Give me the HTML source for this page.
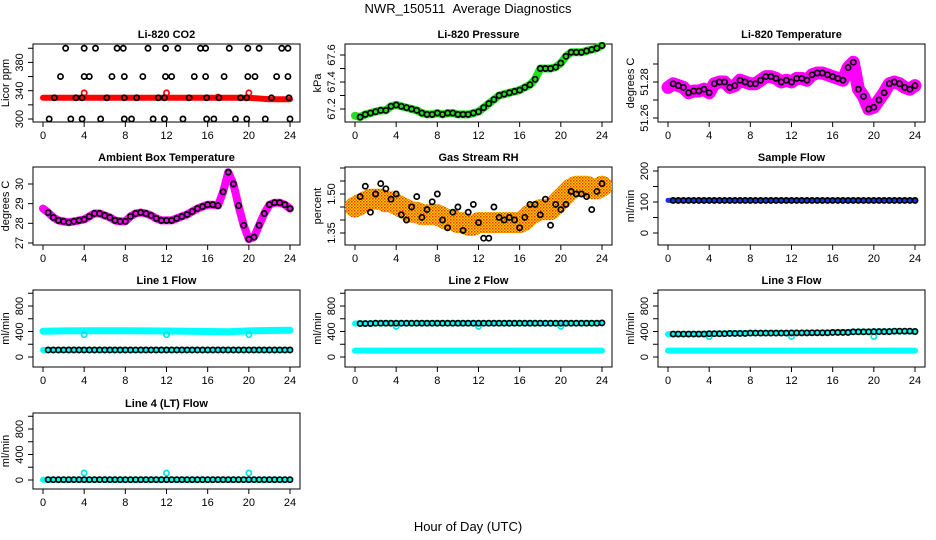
<!DOCTYPE html>
<html><head><meta charset="utf-8"><style>
html,body{margin:0;padding:0;background:#fff;}
svg{display:block;font-family:"Liberation Sans",sans-serif;}
</style></head><body>
<svg id="chart" width="936" height="540" viewBox="0 0 936 540">
<defs>
<pattern id="rhpat" width="3" height="3" patternUnits="userSpaceOnUse">
<rect width="3" height="3" fill="#ffd000"/><rect x="0" y="0" width="1.5" height="1.5" fill="#e83000"/><rect x="1.5" y="1.5" width="1.5" height="1.5" fill="#f07000"/>
</pattern>
</defs>
<text x="468" y="13" font-size="13" text-anchor="middle" style="white-space:pre">NWR_150511&#160;&#160;Average Diagnostics</text>
<text x="468" y="531" font-size="13" text-anchor="middle">Hour of Day (UTC)</text>
</svg>
<script>
// shared half-hour grid
const hours = [0,0.5,1,1.5,2,2.5,3,3.5,4,4.5,5,5.5,6,6.5,7,7.5,8,8.5,9,9.5,10,10.5,11,11.5,12,12.5,13,13.5,14,14.5,15,15.5,16,16.5,17,17.5,18,18.5,19,19.5,20,20.5,21,21.5,22,22.5,23,23.5,24];
const xTicks = [0,4,8,12,16,20,24];

// CO2
const co2BandHours = [0,4,8,12,16,20,22,24];
const co2Band = [330,330,330,330,330,330,328,328];
const co2RedHours = [4,12,17,20];
const co2Red = [337,337,331,337];
const co2BlackHours = [2.2,4.0,5.1,7.2,7.8,10.2,11.9,13.1,15.3,15.8,18.1,19.9,21.0,23.2,23.8,
 1.7,4.0,4.5,6.7,7.9,9.7,11.9,12.5,14.7,15.8,17.6,19.9,20.6,22.7,23.8,
 1.1,3.2,3.8,6.2,7.9,9.1,11.2,11.8,14.2,15.9,17.1,19.2,19.8,22.2,23.9,
 0.6,2.7,3.8,5.6,7.9,8.6,10.7,11.8,13.6,15.9,16.6,18.7,19.8,21.6,24.0];
const co2Black = [400,400,400,400,400,400,400,400,400,400,400,400,400,400,400,
 360,360,360,360,360,360,360,360,360,360,360,360,360,360,360,
 330,330,330,330,330,330,330,330,330,330,330,330,330,330,330,
 300,300,300,300,300,300,300,300,300,300,300,300,300,300,300];

// Pressure
const pressure = [67.15,67.14,67.16,67.17,67.18,67.19,67.19,67.22,67.23,67.22,67.21,67.20,67.19,67.17,67.16,67.16,67.17,67.16,67.17,67.17,67.16,67.16,67.16,67.17,67.18,67.21,67.24,67.27,67.30,67.31,67.32,67.33,67.34,67.36,67.38,67.42,67.50,67.50,67.50,67.51,67.54,67.59,67.62,67.62,67.62,67.63,67.64,67.65,67.67];

// Li-820 temperature
const liTemp = [51.277,51.279,51.278,51.277,51.274,51.275,51.275,51.276,51.274,51.279,51.280,51.280,51.277,51.278,51.281,51.280,51.279,51.279,51.281,51.283,51.283,51.282,51.280,51.281,51.280,51.282,51.282,51.281,51.284,51.285,51.285,51.284,51.283,51.282,51.281,51.288,51.291,51.276,51.272,51.265,51.266,51.270,51.274,51.279,51.280,51.279,51.277,51.276,51.278];

// Ambient box temperature
const ambient = [28.75,28.55,28.3,28.15,28.1,28.05,28.1,28.15,28.2,28.35,28.5,28.5,28.4,28.3,28.15,28.1,28.1,28.35,28.5,28.55,28.5,28.4,28.25,28.15,28.15,28.15,28.25,28.35,28.45,28.6,28.75,28.85,28.95,28.95,28.9,29.6,30.6,30.0,28.9,27.9,27.2,27.3,27.9,28.5,28.95,29.05,29.05,28.95,28.75];

// Gas stream RH
const rhBand = [1.45,1.46,1.47,1.48,1.48,1.48,1.47,1.47,1.46,1.45,1.44,1.43,1.43,1.42,1.42,1.42,1.42,1.41,1.40,1.40,1.39,1.39,1.38,1.38,1.39,1.39,1.39,1.39,1.39,1.39,1.39,1.39,1.39,1.40,1.42,1.43,1.44,1.44,1.44,1.46,1.48,1.50,1.52,1.53,1.53,1.53,1.52,1.52,1.53];
const rhDots = [1.47,1.49,1.53,1.43,1.50,1.54,1.52,1.48,1.50,1.42,1.40,1.45,1.49,1.41,1.44,1.47,1.50,1.40,1.37,1.43,1.45,1.36,1.43,1.46,1.39,1.33,1.33,1.45,1.41,1.40,1.41,1.40,1.37,1.41,1.46,1.46,1.42,1.48,1.38,1.46,1.44,1.46,1.51,1.50,1.50,1.49,1.44,1.51,1.54];

// Sample flow
const sampleFlow = [105,105,105,105,105,105,105,105,105,105,105,105,105,105,105,105,105,105,105,105,105,105,105,105,105,105,105,105,105,105,105,105,105,105,105,105,105,105,105,105,105,105,105,105,105,105,105,105,105];

// Line flows
const line1Upper = [405,410,412,412,412,410,408,405,400,395,410,415,420];
const line1Lower = [110,110,110,110,110,110,110,110,110,110,110,110,110];
const line2Upper = [525,530,530,530,530,530,530,530,530,530,530,530,535];
const line2Lower = [100,100,100,100,100,100,100,100,100,100,100,100,100];
const line3Upper = [360,360,365,370,375,375,378,380,385,395,398,405,400];
const line3Lower = [100,100,100,100,100,100,100,100,100,100,100,100,100];
const line4Upper = [5,5,5,5,5,5,5,5,5,5,5,5,5];
const bandHours = [0,2,4,6,8,10,12,14,16,18,20,22,24];
const outlierHours = [4,12,20];
const line1Out = [350,350,350];
const line2Out = [480,480,480];
const line3Out = [320,320,320];
const line4Out = [110,110,110];

const NS = 'http://www.w3.org/2000/svg';
const svg = document.getElementById('chart');
function mk(tag, attrs, parent){ const e=document.createElementNS(NS,tag); for(const k in attrs) e.setAttribute(k,attrs[k]); (parent||svg).appendChild(e); return e; }

function panel(o){
  const g = mk('g',{});
  
  
  const L=o.box[0], R=o.box[1], T=o.box[2], B=o.box[3];
  const xs = h => (L+10) + h*((R-10)-(L+10))/24;
  const ys = v => o.p1 + (v-o.v1)*(o.p2-o.p1)/(o.v2-o.v1);
  const t = mk('text',{x:(L+R)/2,y:T-6,'font-size':11,'font-weight':'bold','text-anchor':'middle'},g);
  t.textContent=o.title;
  
  
  const box = mk('rect',{x:L,y:T,width:R-L,height:B-T,fill:'none',stroke:'#000','stroke-width':1},g);
  
  
  xTicks.forEach(h=>{
    mk('line',{x1:xs(h),x2:xs(h),y1:B,y2:B+5,stroke:'#000'},g);
    const tx=mk('text',{x:xs(h),y:B+17,'font-size':11,'text-anchor':'middle'},g);
    tx.textContent=h;
    
    
  });
  o.yTicks.forEach(v=>{
    mk('line',{x1:L-5,x2:L,y1:ys(v),y2:ys(v),stroke:'#000'},g);
  });
  o.yLabels.forEach(v=>{
    const y=ys(v);
    const tx=mk('text',{x:L-10,y:y,'font-size':11,'text-anchor':'middle',transform:`rotate(-90 ${L-10} ${y})`},g);
    tx.textContent=o.fmt?o.fmt(v):v;
    
    
  });
  const lab=mk('text',{x:L-24,y:(T+B)/2,'font-size':11,'text-anchor':'middle',transform:`rotate(-90 ${L-24} ${(T+B)/2})`},g);
  lab.textContent=o.ylab;
  
  
  const clip = 'c'+Math.round(L)+'_'+Math.round(T);
  const cp=mk('clipPath',{id:clip},g); mk('rect',{x:L,y:T-2,width:R-L,height:B-T+4},cp);
  const pg=mk('g',{'clip-path':`url(#${clip})`},g);
  return {g:pg,xs,ys};
}
function band(p, hs, vs, color, w, name){
  const pts = hs.map((h,i)=>p.xs(h).toFixed(1)+','+p.ys(vs[i]).toFixed(1)).join(' ');
  const e=mk('polyline',{points:pts,fill:'none',stroke:color,'stroke-width':w,'stroke-linecap':'round','stroke-linejoin':'round'},p.g);
  
  
}
function circles(p, hs, vs, color, name, skipFirst){
  hs.forEach((h,i)=>{
    if(skipFirst && i===0) return;
    const c=mk('circle',{cx:p.xs(h),cy:p.ys(vs[i]),r:2.6,fill:'none',stroke:color,'stroke-width':1.7},p.g);
    
    
  });
}

// Row 1
let p = panel({name:'co2-panel',title:'Li-820 CO2',ylab:'Licor ppm',box:[33,300,44,122],v1:300,p1:119,v2:340,p2:90.7,yTicks:[300,320,340,360,380,400],yLabels:[300,340,380]});
band(p, co2BandHours, co2Band, '#f00', 6, 'co2-band');
circles(p, co2RedHours, co2Red, '#f00', 'co2-red-point');
circles(p, co2BlackHours, co2Black, '#000', 'co2-point');

p = panel({name:'pressure-panel',title:'Li-820 Pressure',ylab:'kPa',box:[345,612,44,122],v1:67.2,p1:109,v2:67.6,p2:55,yTicks:[67.2,67.3,67.4,67.5,67.6],yLabels:[67.2,67.4,67.6],fmt:v=>v.toFixed(1)});
band(p, hours, pressure, '#22dd22', 8, 'pressure-band');
circles(p, hours, pressure, '#000', 'pressure-point', true);

p = panel({name:'li820-temp-panel',title:'Li-820 Temperature',ylab:'degrees C',box:[658,925,44,122],v1:51.26,p1:118,v2:51.28,p2:82,yTicks:[51.26,51.27,51.28,51.29],yLabels:[51.26,51.28],fmt:v=>v.toFixed(2)});
band(p, hours, liTemp, '#ff00ff', 13, 'li820-temp-band');
circles(p, hours, liTemp, '#000', 'li820-temp-point', true);

// Row 2
p = panel({name:'ambient-panel',title:'Ambient Box Temperature',ylab:'degrees C',box:[33,300,167,245],v1:27,p1:243,v2:30,p2:184,yTicks:[27,28,29,30],yLabels:[27,28,29,30]});
band(p, hours, ambient, '#ff00ff', 8, 'ambient-band');
circles(p, hours, ambient, '#000', 'ambient-point', true);

p = panel({name:'rh-panel',title:'Gas Stream RH',ylab:'percent',box:[345,612,167,245],v1:1.35,p1:233,v2:1.50,p2:194,yTicks:[1.35,1.40,1.45,1.50,1.55,1.60],yLabels:[1.35,1.50],fmt:v=>v.toFixed(2)});
band(p, hours, rhBand, 'url(#rhpat)', 21, 'rh-band');
circles(p, hours, rhDots, '#000', 'rh-point', true);

p = panel({name:'sample-flow-panel',title:'Sample Flow',ylab:'ml/min',box:[658,925,167,245],v1:0,p1:233,v2:200,p2:171,yTicks:[0,50,100,150,200],yLabels:[0,100,200]});
band(p, hours, sampleFlow, '#1030ff', 5, 'sample-flow-band');
circles(p, hours, sampleFlow, '#000', 'sample-flow-point', true);

// Row 3
const flowTicks=[0,200,400,600,800,1000], flowLabels=[0,400,800];
p = panel({name:'line1-panel',title:'Line 1 Flow',ylab:'ml/min',box:[33,300,290,367],v1:0,p1:357,v2:800,p2:306,yTicks:flowTicks,yLabels:flowLabels});
band(p, bandHours, line1Upper, '#00ffff', 7, 'line1-upper-band');
band(p, bandHours, line1Lower, '#00ffff', 6, 'line1-lower-band');
circles(p, outlierHours, line1Out, '#00e5e5', 'line1-outlier');
circles(p, hours, hours.map((h,i)=>line1Lower[Math.floor(i/4)]), '#000', 'line1-point', true);

p = panel({name:'line2-panel',title:'Line 2 Flow',ylab:'ml/min',box:[345,612,290,367],v1:0,p1:357,v2:800,p2:306,yTicks:flowTicks,yLabels:flowLabels});
band(p, bandHours, line2Upper, '#00ffff', 6, 'line2-upper-band');
band(p, bandHours, line2Lower, '#00ffff', 6, 'line2-lower-band');
circles(p, outlierHours, line2Out, '#00e5e5', 'line2-outlier');
circles(p, hours, hours.map((h,i)=>line2Upper[Math.floor(i/4)]), '#000', 'line2-point', true);

p = panel({name:'line3-panel',title:'Line 3 Flow',ylab:'ml/min',box:[658,925,290,367],v1:0,p1:357,v2:800,p2:306,yTicks:flowTicks,yLabels:flowLabels});
band(p, bandHours, line3Upper, '#00ffff', 6, 'line3-upper-band');
band(p, bandHours, line3Lower, '#00ffff', 6, 'line3-lower-band');
circles(p, outlierHours, line3Out, '#00e5e5', 'line3-outlier');
circles(p, hours, hours.map((h,i)=>line3Upper[Math.floor(i/4)]), '#000', 'line3-point', true);

// Row 4
p = panel({name:'line4-panel',title:'Line 4 (LT) Flow',ylab:'ml/min',box:[33,300,413,489],v1:0,p1:480,v2:800,p2:429,yTicks:flowTicks,yLabels:flowLabels});
band(p, bandHours, line4Upper, '#00ffff', 6, 'line4-band');
circles(p, outlierHours, line4Out, '#00e5e5', 'line4-outlier');
circles(p, hours, hours.map((h,i)=>line4Upper[Math.floor(i/4)]), '#000', 'line4-point', true);
</script>
</body></html>
